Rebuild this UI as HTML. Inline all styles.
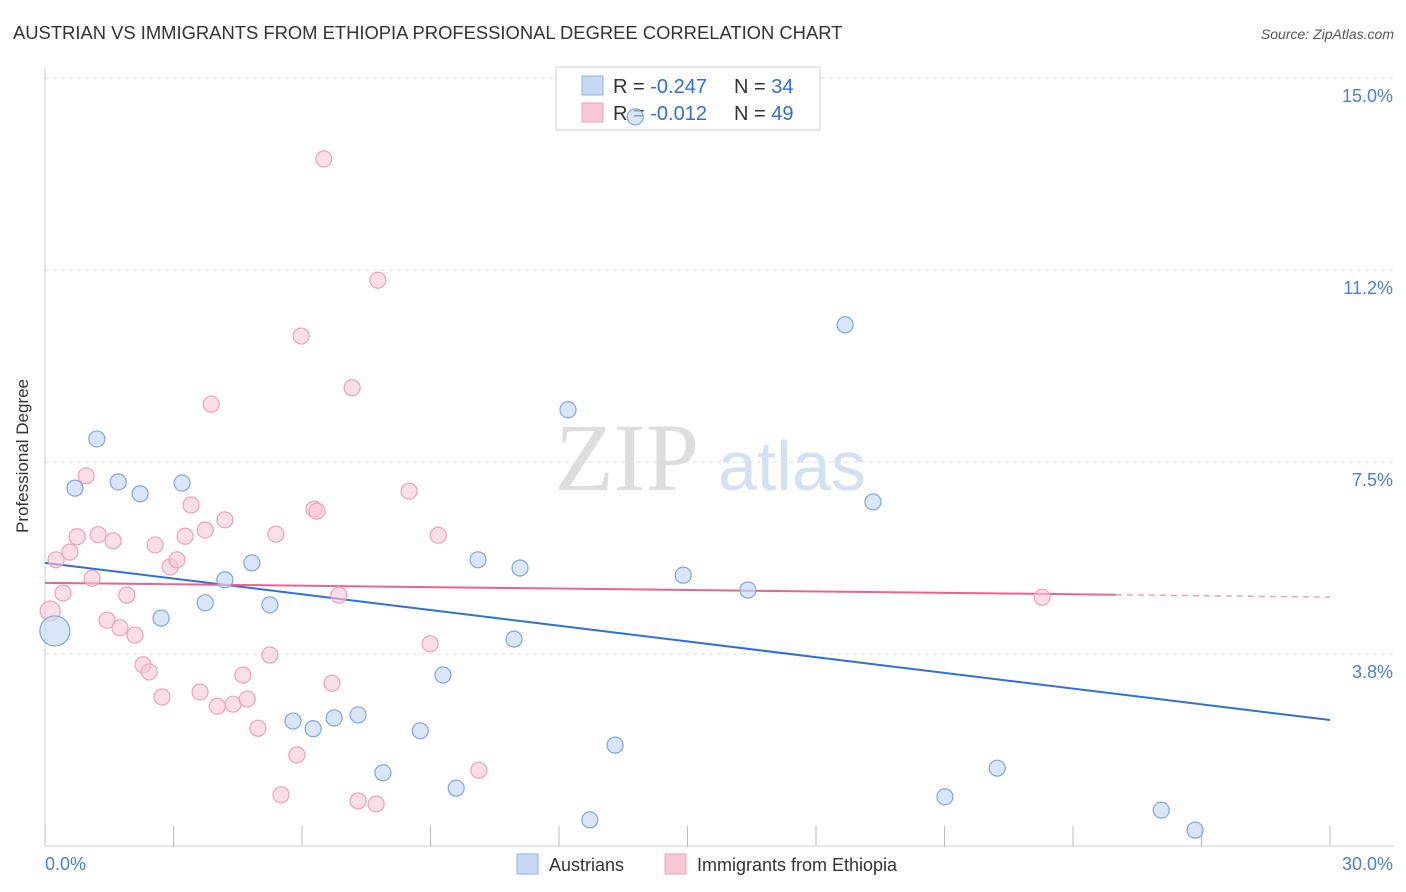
<!DOCTYPE html>
<html><head><meta charset="utf-8"><style>
body{margin:0;background:#fff;font-family:"Liberation Sans",sans-serif;}
svg{display:block}
</style></head><body>
<svg id="chart" width="1406" height="892">
<text x="13" y="39" font-size="18.4" fill="#333">AUSTRIAN VS IMMIGRANTS FROM ETHIOPIA PROFESSIONAL DEGREE CORRELATION CHART</text>
<text x="1394" y="39" font-size="14" fill="#555" text-anchor="end" font-style="italic">Source: ZipAtlas.com</text>
<text x="28" y="456" font-size="17" fill="#333" text-anchor="middle" transform="rotate(-90 28 456)">Professional Degree</text>
<g id="grid"></g>
<text x="555" y="490" font-size="96" fill="#ddd" font-family="Liberation Serif,serif">ZIP</text>
<text x="718" y="490" font-size="70" fill="#d3e1f4">atlas</text>
<g>
<rect x="556" y="67" width="264" height="63" fill="#fff" stroke="#ccc"/>
<rect x="582" y="76" width="21" height="19" fill="#c5d9f3" stroke="#8fb2e6"/>
<text x="613" y="93" font-size="20" fill="#333">R = <tspan fill="#2f6fdb">-0.247</tspan></text>
<text x="734" y="93" font-size="20" fill="#333">N = <tspan fill="#2f6fdb">34</tspan></text>
<rect x="582" y="103" width="21" height="19" fill="#f9c8d7" stroke="#f0a0b8"/>
<text x="613" y="120" font-size="20" fill="#333">R = <tspan fill="#2f6fdb">-0.012</tspan></text>
<text x="734" y="120" font-size="20" fill="#333">N = <tspan fill="#2f6fdb">49</tspan></text>
</g>
<g id="lines"></g>
<g id="points"></g>
<g>
<rect x="517" y="854" width="21" height="20" fill="#c5d9f3" stroke="#8fb2e6"/>
<text x="549" y="871" font-size="18" fill="#333">Austrians</text>
<rect x="665" y="854" width="21" height="20" fill="#f9c8d7" stroke="#f0a0b8"/>
<text x="697" y="871" font-size="18" fill="#333">Immigrants from Ethiopia</text>
</g>
</svg>
<script>
const yTicks=[3.75,7.5,11.25,15];
const yTickLabels=["3.8%","7.5%","11.2%","15.0%"];
const xTicks=[0,3,6,9,12,15,18,21,24,27,30];
const blueX=[0.23,0.70,1.21,1.71,2.22,2.71,3.20,3.74,4.20,4.83,5.25,5.79,6.26,6.75,7.31,7.89,8.76,9.29,9.60,10.11,10.95,11.09,12.21,12.72,13.31,13.78,14.90,16.41,18.68,19.33,21.01,22.23,26.06,26.85];
const blueY=[4.20,6.99,7.95,7.11,6.88,4.45,7.09,4.75,5.20,5.53,4.71,2.44,2.29,2.50,2.56,1.43,2.25,3.34,1.13,5.59,4.04,5.43,8.52,0.51,1.97,14.24,5.29,5.00,10.18,6.72,0.96,1.52,0.70,0.31];
const pinkX=[0.12,0.26,0.42,0.58,0.75,0.96,1.10,1.24,1.45,1.59,1.75,1.91,2.10,2.29,2.43,2.57,2.73,2.92,3.08,3.27,3.41,3.62,3.74,3.88,4.02,4.20,4.39,4.62,4.72,4.97,5.25,5.39,5.51,5.88,5.98,6.28,6.35,6.51,6.70,6.86,7.17,7.31,7.73,7.77,8.50,8.99,9.18,10.13,23.28];
const pinkY=[4.59,5.59,4.94,5.74,6.04,7.23,5.23,6.08,4.41,5.96,4.26,4.90,4.12,3.54,3.40,5.88,2.91,5.45,5.59,6.05,6.66,3.01,6.17,8.63,2.73,6.37,2.77,3.34,2.87,2.30,3.73,6.09,1.00,1.78,9.96,6.58,6.54,13.42,3.18,4.90,8.95,0.88,0.82,11.05,6.93,3.95,6.07,1.48,4.86];
const blueTrend=[5.53,2.46];
const pinkTrend=[5.14,4.86];
const pinkSolidEnd=25;
const NS="http://www.w3.org/2000/svg";
const X=v=>45+v*(1330-45)/30;
const Y=v=>846-v*51.2;
function mk(tag,attrs,parent){const e=document.createElementNS(NS,tag);for(const k in attrs)e.setAttribute(k,attrs[k]);parent.appendChild(e);return e;}
const grid=document.getElementById('grid');
mk('line',{x1:45,y1:68,x2:45,y2:846,stroke:'#ccc'},grid);
mk('line',{x1:45,y1:846,x2:1394,y2:846,stroke:'#ccc'},grid);
yTicks.forEach((t,i)=>{
 const l=mk('line',{x1:45,y1:Y(t),x2:1394,y2:Y(t),stroke:'#ddd','stroke-dasharray':'4,4'},grid);
 
 
 const tx=mk('text',{x:1393,y:Y(t)+24,'font-size':18,fill:'#4a7fd8','text-anchor':'end'},grid);
 tx.textContent=yTickLabels[i];
 
 
});
xTicks.forEach(t=>{
 const l=mk('line',{x1:X(t),y1:826,x2:X(t),y2:846,stroke:'#bbb'},grid);
 
 
});
const xl0=mk('text',{x:45,y:870,'font-size':18,fill:'#4a7fd8'},grid);xl0.textContent='0.0%';


const xl1=mk('text',{x:1393,y:870,'font-size':18,fill:'#4a7fd8','text-anchor':'end'},grid);xl1.textContent='30.0%';


const pts=document.getElementById('points');
pinkX.forEach((x,i)=>{
 const c=mk('circle',{cx:X(x),cy:Y(pinkY[i]),r:i===0?10:8,fill:'#f9c8d7','fill-opacity':0.6,stroke:'#f0a0b8','stroke-width':1.2},pts);
 
 
});
blueX.forEach((x,i)=>{
 const c=mk('circle',{cx:X(x),cy:Y(blueY[i]),r:i===0?15:8,fill:'#c5d9f3','fill-opacity':0.65,stroke:'#7fa6e0','stroke-width':1.2},pts);
 
 
});
const ln=document.getElementById('lines');
const bl=mk('line',{x1:X(0),y1:Y(blueTrend[0]),x2:X(30),y2:Y(blueTrend[1]),stroke:'#2f6fdb','stroke-width':2},ln);


const pm=pinkTrend[0]+(pinkTrend[1]-pinkTrend[0])*pinkSolidEnd/30;
const pl=mk('line',{x1:X(0),y1:Y(pinkTrend[0]),x2:X(pinkSolidEnd),y2:Y(pm),stroke:'#e8648e','stroke-width':2},ln);


const pd=mk('line',{x1:X(pinkSolidEnd),y1:Y(pm),x2:X(30),y2:Y(pinkTrend[1]),stroke:'#f0a0b8','stroke-width':1.5,'stroke-dasharray':'6,5'},ln);


</script>
</body></html>
